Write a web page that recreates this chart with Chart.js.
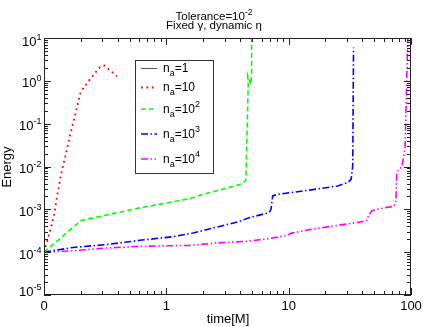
<!DOCTYPE html>
<html>
<head>
<meta charset="utf-8">
<script src="https://cdn.jsdelivr.net/npm/chart.js@4.4.1/dist/chart.umd.min.js"></script>
<style>
  html, body { margin: 0; padding: 0; background: #fff; }
  #wrap { width: 423px; height: 327px; }
</style>
</head>
<body>
<div id="wrap"><canvas id="energyChart" width="423" height="327"></canvas></div>
<script>
// time[M] (first decade starts at 0.1, shown as "0") and energy values
const tNa1 = [];
const eNa1 = [];

const tNa10 = [0.1, 0.112, 0.121, 0.129, 0.139, 0.150, 0.164, 0.181, 0.199, 0.224, 0.255, 0.291, 0.312, 0.338, 0.396];
const eNa10 = [1e-4, 3.1e-4, 7.4e-4, 2.3e-3, 7.3e-3, 1.8e-2, 5.6e-2, 0.172, 0.54, 0.88, 1.40, 2.19, 2.27, 1.87, 1.28];

const tNa100 = [0.1, 0.2, 0.215, 0.607, 1.56, 1.88, 3.99, 4.39, 4.47, 4.67, 4.62, 4.91, 4.98, 4.98];
const eNa100 = [1.0e-4, 5.4e-4, 5.74e-4, 1.08e-3, 1.78e-3, 2.12e-3, 3.78e-3, 4.51e-3, 4.7e-3, 0.82, 1.33, 0.82, 1.56, 16];

const tNa1000 = [0.1, 0.173, 0.324, 0.607, 1.14, 1.66, 2.42, 3.99, 4.67, 6.94, 7.17, 7.40, 8.13, 15.2, 25.2, 30.4, 32.4, 33.4, 33.9];
const eNa1000 = [1e-4, 1.29e-4, 1.50e-4, 1.89e-4, 2.30e-4, 2.81e-4, 3.67e-4, 5.24e-4, 6.3e-4, 8.4e-4, 1.0e-3, 2.06e-3, 2.24e-3, 2.84e-3, 3.52e-3, 4.2e-3, 5.0e-3, 1.03e-2, 6.0];

const tNa10000 = [0.1, 0.173, 0.324, 0.607, 1.56, 2.58, 4.5, 6.94, 9.8, 10.4, 15.2, 28.5, 37.1, 43.5, 44.8, 47.8, 54.1, 71.8, 75.1, 76.5, 78.9, 84.1, 86.7, 89.5, 90.7, 92.8, 94.1, 94.5];
const eNa10000 = [1e-4, 1.08e-4, 1.25e-4, 1.37e-4, 1.44e-4, 1.64e-4, 1.79e-4, 2.07e-4, 2.47e-4, 2.75e-4, 3.41e-4, 4.46e-4, 4.97e-4, 5.44e-4, 6.86e-4, 9.3e-4, 1.02e-3, 1.17e-3, 1.41e-3, 6.5e-3, 8.5e-3, 9.6e-3, 1.59e-2, 2.72e-2, 0.137, 2.01, 10.5, 20];

// legend text: n_a = base^exp
const legendBase = ['1', '10', '10', '10', '10'];
const legendExp = ['', '', '2', '3', '4'];

// axis ticks
const xTickValues = [0.1, 1, 10, 100];
const xTickLabels = ['0', '1', '10', '100'];
const yTickExps = [-5, -4, -3, -2, -1, 0, 1];

const FONT = '"Liberation Sans", Arial, sans-serif';
function font(sz) { return sz + 'px ' + FONT; }

function toPoints(ts, es) {
  return ts.map((t, i) => ({ x: t, y: es[i] }));
}

// draws a row of text pieces (for super/subscripts)
function drawRich(ctx, parts, x, y, align) {
  let w = 0;
  parts.forEach(p => {
    ctx.font = font(p.size);
    p.w = ctx.measureText(p.text).width;
    w += p.w;
  });
  let cx = align === 'right' ? x - w : (align === 'center' ? x - w / 2 : x);
  ctx.textAlign = 'left';
  ctx.textBaseline = 'alphabetic';
  parts.forEach(p => {
    ctx.font = font(p.size);
    ctx.fillText(p.text, cx, y + (p.dy || 0));
    cx += p.w;
  });
}

const framePlugin = {
  id: 'frame',
  afterDraw(chart) {
    const ctx = chart.ctx;
    const a = chart.chartArea;
    const xs = chart.scales.x;
    const ys = chart.scales.y;
    ctx.save();
    ctx.fillStyle = '#000';
    ctx.strokeStyle = '#222';
    ctx.lineWidth = 1;

    // box round the plot
    ctx.strokeRect(a.left + 0.5, a.top + 0.5, a.right - a.left - 1, a.bottom - a.top - 1);

    // inward ticks on all four sides
    ctx.beginPath();
    for (let d = -1; d <= 2; d++) {
      for (let m = 1; m <= 9; m++) {
        const v = m * Math.pow(10, d);
        if (v > 100.0001) break;
        const px = Math.round(xs.getPixelForValue(v)) + 0.5;
        const len = m === 1 ? 7 : 4;
        ctx.moveTo(px, a.bottom); ctx.lineTo(px, a.bottom - len);
        ctx.moveTo(px, a.top); ctx.lineTo(px, a.top + len);
      }
    }
    for (let d = -5; d <= 1; d++) {
      for (let m = 1; m <= 9; m++) {
        const v = m * Math.pow(10, d);
        if (v > 10.0001) break;
        const py = Math.round(ys.getPixelForValue(v)) + 0.5;
        const len = m === 1 ? 7 : 4;
        ctx.moveTo(a.left, py); ctx.lineTo(a.left + len, py);
        ctx.moveTo(a.right, py); ctx.lineTo(a.right - len, py);
      }
    }
    ctx.stroke();

    // x tick labels
    ctx.font = font(13);
    ctx.textAlign = 'center';
    ctx.textBaseline = 'alphabetic';
    xTickValues.forEach((v, i) => {
      ctx.fillText(xTickLabels[i], xs.getPixelForValue(v), a.bottom + 14.5);
    });

    // y tick labels 10^n
    yTickExps.forEach(e => {
      const py = ys.getPixelForValue(Math.pow(10, e));
      const base = Math.min(Math.max(py + 6.5, a.top + 8), a.bottom + 1);
      drawRich(ctx, [
        { text: '10', size: 13 },
        { text: String(e), size: 9, dy: -6 }
      ], 41.5, base, 'right');
    });

    // axis titles
    ctx.font = font(13);
    ctx.textAlign = 'center';
    ctx.fillText('time[M]', 228, 323);
    ctx.save();
    ctx.translate(10.5, 167);
    ctx.rotate(-Math.PI / 2);
    ctx.fillText('Energy', 0, 0);
    ctx.restore();

    // two-line title
    drawRich(ctx, [
      { text: 'Tolerance=10', size: 11.5 },
      { text: '-2', size: 8.5, dy: -5 }
    ], 214, 19.5, 'center');
    drawRich(ctx, [{ text: 'Fixed \u03b3, dynamic \u03b7', size: 11.5 }], 214, 29, 'center');

    // legend box
    const lx = 135.5, ly = 60.5, lw = 78, lh = 113;
    ctx.fillStyle = '#fff';
    ctx.fillRect(lx, ly, lw, lh);
    ctx.strokeStyle = '#333';
    ctx.strokeRect(lx, ly, lw, lh);
    const rowY = [68.5, 87.5, 109, 134, 159];
    chart.data.datasets.forEach((ds, i) => {
      const y = rowY[i];
      ctx.save();
      ctx.strokeStyle = ds.borderColor;
      ctx.lineWidth = ds.borderWidth;
      ctx.setLineDash(ds.borderDash || []);
      ctx.beginPath();
      ctx.moveTo(141, y);
      ctx.lineTo(157, y);
      ctx.stroke();
      ctx.restore();
      ctx.fillStyle = '#000';
      const parts = [
        { text: 'n', size: 12 },
        { text: 'a', size: 9, dy: 4 },
        { text: '=' + legendBase[i], size: 12 }
      ];
      if (legendExp[i]) parts.push({ text: legendExp[i], size: 9, dy: -6 });
      drawRich(ctx, parts, 163, y + 3.5, 'left');
    });
    ctx.restore();
  }
};

const ctx = document.getElementById('energyChart').getContext('2d');
const chart = new Chart(ctx, {
  type: 'line',
  data: {
    datasets: [
      { label: 'n_a=1', data: toPoints(tNa1, eNa1), borderColor: '#555555', borderWidth: 1, borderDash: [] },
      { label: 'n_a=10', data: toPoints(tNa10, eNa10), borderColor: '#ff0000', borderWidth: 1.8, borderDash: [1.8, 3.6] },
      { label: 'n_a=10^2', data: toPoints(tNa100, eNa100), borderColor: '#00ff00', borderWidth: 1.6, borderDash: [5, 3] },
      { label: 'n_a=10^3', data: toPoints(tNa1000, eNa1000), borderColor: '#0000ff', borderWidth: 1.6, borderDash: [7, 2.5, 1.5, 2.5] },
      { label: 'n_a=10^4', data: toPoints(tNa10000, eNa10000), borderColor: '#ff00ff', borderWidth: 1.6, borderDash: [7, 2.5, 1.5, 2.5, 1.5, 2.5] }
    ]
  },
  options: {
    responsive: false,
    animation: false,
    devicePixelRatio: 1,
    layout: { padding: { top: 38, right: 12, left: 0, bottom: 0 } },
    elements: {
      point: { radius: 0, hoverRadius: 0 },
      line: { tension: 0, fill: false }
    },
    plugins: {
      legend: { display: false },
      title: { display: false },
      tooltip: { enabled: false }
    },
    scales: {
      x: {
        type: 'logarithmic',
        min: 0.1,
        max: 100,
        ticks: { display: false },
        grid: { display: false },
        border: { display: false },
        afterFit: s => { s.height = 32; }
      },
      y: {
        type: 'logarithmic',
        min: 1e-5,
        max: 10,
        ticks: { display: false },
        grid: { display: false },
        border: { display: false },
        afterFit: s => { s.width = 44; }
      }
    }
  },
  plugins: [framePlugin]
});
</script>
</body>
</html>
